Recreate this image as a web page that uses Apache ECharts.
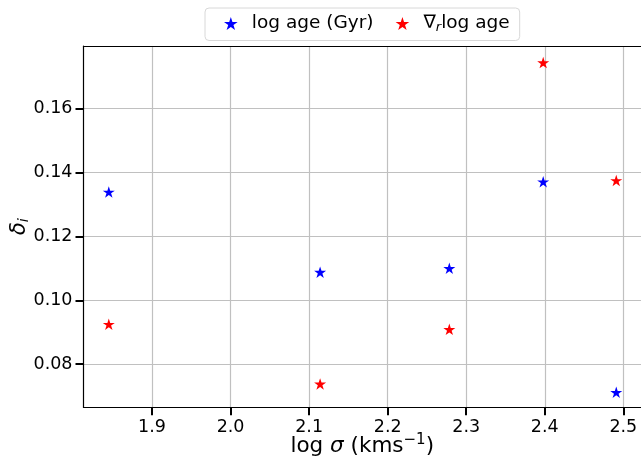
<!DOCTYPE html>
<html>
<head>
<meta charset="utf-8">
<script src="https://cdn.jsdelivr.net/npm/echarts@6/dist/echarts.min.js"></script>
<style>
  html, body { margin: 0; padding: 0; background: #fff; }
  #chart { width: 641px; height: 460px; }
</style>
</head>
<body>
<div id="chart"></div>
<script>
// log sigma positions of the five bins
const logSigma = [1.845, 2.114, 2.2785, 2.398, 2.491];
// delta_i for log age and for its radial gradient
const deltaLogAge = [0.1339, 0.1088, 0.1100, 0.1371, 0.0712];
const deltaGradLogAge = [0.0925, 0.0738, 0.0909, 0.1744, 0.1375];
// tick labels
const xTicks = [1.9, 2.0, 2.1, 2.2, 2.3, 2.4, 2.5];
const yTicks = [0.08, 0.10, 0.12, 0.14, 0.16];

const STAR = 'path://M100 0 L122.45 69.1 L195.1 69.1 L136.3 111.8 L158.8 180.9 L100 138.2 L41.2 180.9 L63.7 111.8 L4.9 69.1 L77.55 69.1 Z';
const FONT = 'DejaVu Sans';
const X_MIN = 1.8128, X_MAX = 2.5225;

const pairs = (xs, ys) => xs.map((x, i) => [x, ys[i]]);

const chart = echarts.init(document.getElementById('chart'), null, { renderer: 'canvas' });

chart.setOption({
  animation: false,
  backgroundColor: '#fff',
  textStyle: { fontFamily: FONT },
  grid: {
    left: 83.5, top: 46, bottom: 52.7, right: 0, show: false,
    containLabel: false, outerBoundsMode: 'none'
  },
  legend: {
    left: 205, top: 8,
    padding: [6, 10, 6, 19],
    backgroundColor: '#fff',
    borderColor: '#d8d8d8', borderWidth: 1, borderRadius: 4,
    itemWidth: 14, itemHeight: 13, itemGap: 22,
    textStyle: {
      fontFamily: FONT, fontSize: 18.5, color: '#000', padding: [0, 0, 0, 9],
      rich: {
        sub: { fontFamily: FONT, fontSize: 13, fontStyle: 'italic', verticalAlign: 'bottom', padding: [9, 0, 0, 0], color: '#000' }
      }
    },
    formatter: name => name === 'grad' ? '∇{sub|r}log age' : name,
    data: [
      { name: 'log age (Gyr)', icon: STAR },
      { name: 'grad', icon: STAR }
    ]
  },
  xAxis: [
    {
      type: 'value',
      min: X_MIN, max: X_MAX,
      name: 'log {it|σ} (kms{sup|−1})',
      nameLocation: 'middle', nameGap: 25, nameMoveOverlap: false,
      nameTextStyle: {
        fontFamily: FONT, fontSize: 21.5, color: '#000',
        rich: {
          it: { fontFamily: FONT, fontSize: 21.5, fontStyle: 'italic', color: '#000' },
          sup: { fontFamily: FONT, fontSize: 15, color: '#000', verticalAlign: 'top', padding: [0, 0, 14, 0] }
        }
      },
      axisLine: { show: true, onZero: false, lineStyle: { color: '#000', width: 1.2 } },
      axisTick: { show: true, length: 8, lineStyle: { color: '#000', width: 2 }, customValues: xTicks },
      axisLabel: {
        fontFamily: FONT, fontSize: 17.5, color: '#000', margin: 11,
        customValues: xTicks,
        formatter: v => v.toFixed(1)
      },
      splitLine: { show: true, lineStyle: { color: '#c0c0c0', width: 1.2 } }
    },
    {
      // top spine only
      type: 'value', position: 'top',
      min: X_MIN, max: X_MAX,
      axisLine: { show: true, onZero: false, lineStyle: { color: '#000', width: 1.2 } },
      axisTick: { show: false }, axisLabel: { show: false }, splitLine: { show: false }
    }
  ],
  yAxis: {
    type: 'value',
    min: 0.0665, max: 0.1796,
    name: '{d|δ}{sub|i}',
    nameLocation: 'middle', nameGap: 52, nameRotate: 90, nameMoveOverlap: false,
    nameTextStyle: {
      fontFamily: FONT, color: '#000',
      rich: {
        d: { fontFamily: FONT, fontSize: 21, fontStyle: 'italic', color: '#000' },
        sub: { fontFamily: FONT, fontSize: 14.5, fontStyle: 'italic', color: '#000', verticalAlign: 'bottom', padding: [9, 0, 0, 0] }
      }
    },
    axisLine: { show: true, onZero: false, lineStyle: { color: '#000', width: 1.2 } },
    axisTick: { show: true, length: 8, lineStyle: { color: '#000', width: 2 }, customValues: yTicks },
    axisLabel: {
      fontFamily: FONT, fontSize: 17.5, color: '#000', margin: 11,
      customValues: yTicks,
      formatter: v => v.toFixed(2)
    },
    splitLine: { show: true, lineStyle: { color: '#c0c0c0', width: 1.2 } }
  },
  series: [
    {
      name: 'log age (Gyr)', type: 'scatter',
      symbol: STAR, symbolSize: [12, 11.5],
      itemStyle: { color: '#0000ff', opacity: 1 },
      data: pairs(logSigma, deltaLogAge), z: 3
    },
    {
      name: 'grad', type: 'scatter',
      symbol: STAR, symbolSize: [12, 11.5],
      itemStyle: { color: '#ff0000', opacity: 1 },
      data: pairs(logSigma, deltaGradLogAge), z: 3
    }
  ]
});
</script>
</body>
</html>
